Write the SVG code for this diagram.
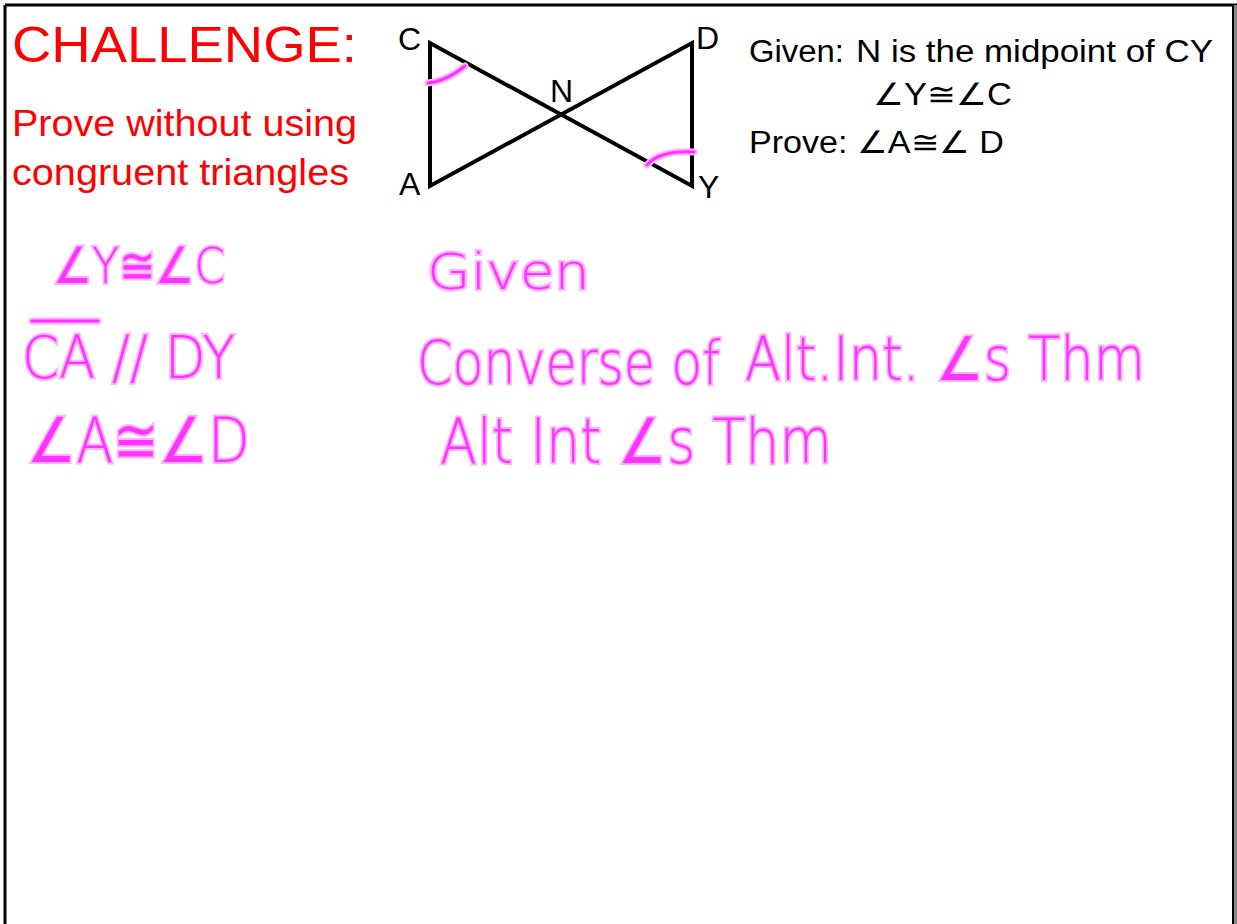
<svg xmlns="http://www.w3.org/2000/svg" width="1237" height="924" viewBox="0 0 1237 924">
<style>
.red{fill:#ff0000;font-family:"Liberation Sans",Arial,sans-serif}
.blk{fill:#000;font-family:"Liberation Sans",Arial,sans-serif}
.hand{fill:#ff33ff;stroke:#ffb3ff;stroke-width:4;paint-order:stroke;font-family:"DejaVu Sans","Liberation Sans",sans-serif;font-weight:300}
.fig{stroke:#000;stroke-width:4;fill:none;stroke-linejoin:miter}
.mark{stroke:#ff33ff;stroke-width:3;fill:none;stroke-linecap:round}
.markh{stroke:#ffb3ff;stroke-width:7;fill:none;stroke-linecap:round}
</style>
<rect x="0" y="0" width="1237" height="924" fill="#fff"/>
<g id="frame">
<line x1="5" y1="5" x2="1237" y2="5" stroke="#000" stroke-width="3"/>
<line x1="5" y1="5" x2="5" y2="924" stroke="#000" stroke-width="3"/>
<line x1="1233" y1="5" x2="1233" y2="924" stroke="#000" stroke-width="2"/>
<rect x="1234" y="5" width="3" height="919" fill="#888"/>
</g>
<g id="title">
<text class="red" x="12" y="62" font-size="50" textLength="345" lengthAdjust="spacingAndGlyphs">CHALLENGE:</text>
<text class="red" x="12" y="136" font-size="37" textLength="345" lengthAdjust="spacingAndGlyphs">Prove without using</text>
<text class="red" x="12" y="185" font-size="37" textLength="337" lengthAdjust="spacingAndGlyphs">congruent triangles</text>
</g>
<g id="figure">
<path class="fig" d="M430,43 L430,186 L692,43 L692,186 Z"/>
<path class="markh" d="M428,83 Q447,81 465,66"/>
<path class="mark" d="M428,83 Q447,81 465,66"/>
<path class="markh" d="M647,165 Q660,150 694,152"/>
<path class="mark" d="M647,165 Q660,150 694,152"/>
<text class="blk" x="398" y="50" font-size="32">C</text>
<text class="blk" x="696" y="49" font-size="32">D</text>
<text class="blk" x="550" y="102" font-size="32">N</text>
<text class="blk" x="399" y="195" font-size="32">A</text>
<text class="blk" x="698" y="198" font-size="32">Y</text>
</g>
<g id="given">
<text class="blk" x="749" y="62" font-size="31" textLength="95" lengthAdjust="spacingAndGlyphs">Given:</text>
<text class="blk" x="856" y="62" font-size="31" textLength="357" lengthAdjust="spacingAndGlyphs">N is the midpoint of CY</text>
<text class="blk" x="873" y="105" font-size="31" textLength="139" lengthAdjust="spacingAndGlyphs">∠Y≅∠C</text>
<text class="blk" x="749" y="153" font-size="31" textLength="255" lengthAdjust="spacingAndGlyphs">Prove: ∠A≅∠ D</text>
</g>
<g id="proof">
<text class="hand" x="53" y="283" font-size="50" textLength="172" lengthAdjust="spacingAndGlyphs">∠Y≅∠C</text>
<line x1="32" y1="321" x2="98" y2="321" stroke="#ffb3ff" stroke-width="7" stroke-linecap="round"/>
<line x1="32" y1="321" x2="98" y2="321" stroke="#ff33ff" stroke-width="3" stroke-linecap="round"/>
<text class="hand" x="22" y="378" font-size="58" textLength="213" lengthAdjust="spacingAndGlyphs">CA // DY</text>
<text class="hand" x="27" y="462" font-size="62" textLength="223" lengthAdjust="spacingAndGlyphs">∠A≅∠D</text>
<text class="hand" x="427" y="289" font-size="50" textLength="163" lengthAdjust="spacingAndGlyphs">Given</text>
<text class="hand" x="417" y="384" font-size="60" textLength="303" lengthAdjust="spacingAndGlyphs">Converse of</text>
<text class="hand" x="745" y="380" font-size="60" textLength="400" lengthAdjust="spacingAndGlyphs">Alt.Int. ∠s Thm</text>
<text class="hand" x="440" y="463" font-size="62" textLength="392" lengthAdjust="spacingAndGlyphs">Alt Int ∠s Thm</text>
</g>
</svg>
